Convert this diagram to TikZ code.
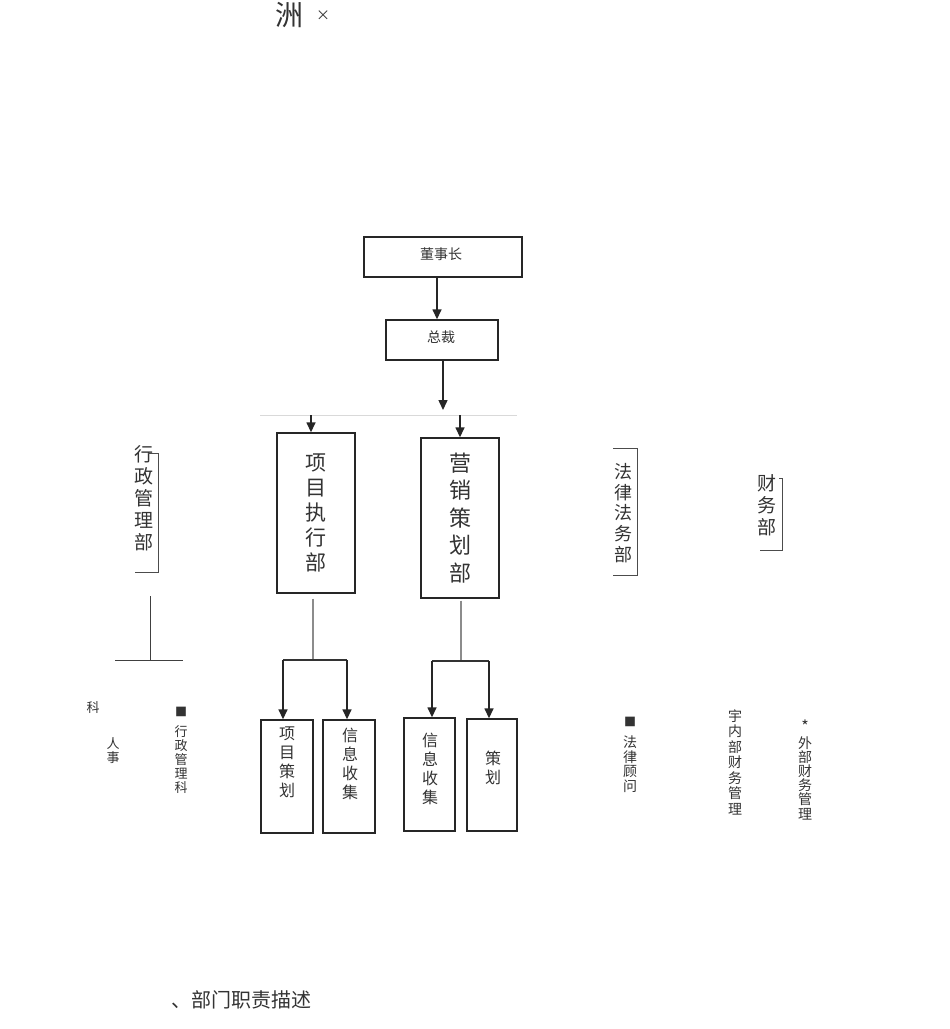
\documentclass[tikz,border=0pt]{standalone}
\usepackage{fontspec}
\newfontfamily\cjk{Noto Sans CJK SC}
\usetikzlibrary{arrows.meta}
\tikzset{
  box/.style={draw=black!85, line width=1.4pt, inner sep=0pt},
  arr/.style={draw=black!85, line width=1.5pt, -{Triangle[length=10pt,width=9pt]}},
  gl/.style={draw=black!45, line width=1.2pt},
  bracket/.style={draw=black!70, line width=0.8pt},
  txt/.style={inner sep=0pt, align=center, text=black!80},
}
\newcommand{\fs}[2]{\cjk\fontsize{#1}{#2}\selectfont}
\begin{document}
\begin{tikzpicture}[x=1pt,y=-1pt]
\useasboundingbox (0,0) rectangle (950,1029);
\fill[white] (0,0) rectangle (950,1029);

% title
\node[txt, font=\fs{28}{30}] (t1) at (289,15) {洲};
\node[txt, font=\fs{14}{15}] (t2) at (323,16) {×};

% top boxes
\node[box, minimum width=158pt, minimum height=40pt] (dsz) at (443,257) {};
\node[txt, font=\fs{14}{16}] (dszt) at (441,254) {董事长};
\node[box, minimum width=112pt, minimum height=40pt] (zc) at (442,340) {};
\node[txt, font=\fs{14}{16}] (zct) at (441,337) {总裁};

\draw[arr] (dsz.south -| 437,0) -- (zc.north -| 437,0);
\coordinate (zcend) at (443,410);
\draw[arr] (zc.south -| zcend) -- (zcend);

% light bar
\coordinate (barL) at (260,415);
\coordinate (barR) at (517,415);
\draw[draw=black!15, line width=1pt] (barL) -- (barR);

% department boxes
\node[box, minimum width=78pt, minimum height=160pt] (xm) at (316,513) {};
\node[txt, font=\fs{21}{25}] (xmt) at (316,513) {项\\目\\执\\行\\部};
\node[box, minimum width=78pt, minimum height=160pt] (yx) at (460,518) {};
\node[txt, font=\fs{22}{27.5}] (yxt) at (460,518) {营\\销\\策\\划\\部};

\coordinate (ta) at (311,415);
\coordinate (tb) at (460,415);
\draw[arr] (ta) -- (ta |- xm.north);
\draw[arr] (tb) -- (tb |- yx.north);

% sub boxes
\node[box, minimum width=52pt, minimum height=113pt] (s1) at (287,776.5) {};
\node[box, minimum width=52pt, minimum height=113pt] (s2) at (349,776.5) {};
\node[box, minimum width=51pt, minimum height=113pt] (s3) at (429.5,774.5) {};
\node[box, minimum width=50pt, minimum height=112pt] (s4) at (492,775) {};
\node[txt, font=\fs{16}{19}] (s1t) at (287,762) {项\\目\\策\\划};
\node[txt, font=\fs{16}{19}] (s2t) at (350,764) {信\\息\\收\\集};
\node[txt, font=\fs{16}{19}] (s3t) at (430,769) {信\\息\\收\\集};
\node[txt, font=\fs{16}{19}] (s4t) at (493,768) {策\\划};

% connectors left group
\coordinate (xa) at (313,660);
\coordinate (j1) at (283,660);
\coordinate (j2) at (347,660);
\draw[gl] (xa |- xm.south) ++(0,5) -- (xa);
\draw[draw=black!80, line width=1.5pt] (j1) -- (j2);
\draw[arr] (j1) -- (j1 |- s1.north);
\draw[arr] (j2) -- (j2 |- s2.north);

% connectors right group
\coordinate (ya) at (461,661);
\coordinate (j3) at (432,661);
\coordinate (j4) at (489,661);
\draw[gl] (ya |- yx.south) ++(0,2) -- (ya);
\draw[draw=black!80, line width=1.5pt] (j3) -- (j4);
\draw[arr] (j3) -- (j3 |- s3.north);
\draw[arr] (j4) -- (j4 |- s4.north);

% left department
\node[txt, font=\fs{19}{22}] (xz) at (144,498) {行\\政\\管\\理\\部};
\draw[bracket] (148,453) -- (158,453) -- (158,572) -- (135,572);
\coordinate (xzv) at (150,596);
\coordinate (xzh1) at (115,660);
\coordinate (xzh2) at (183,660);
\draw[draw=black!75, line width=1pt] (xzv) -- (xzv |- xzh1);
\draw[draw=black!75, line width=1pt] (xzh1) -- (xzh2);
\node[txt, font=\fs{13}{14}] (ke) at (93,708) {科};
\node[txt, font=\fs{13}{14}] (rs) at (113,751) {人\\事};
\node[txt, font=\fs{12}{14}] (sq1) at (181,712) {■};
\node[txt, font=\fs{13}{14}] (xzk) at (181,760) {行\\政\\管\\理\\科};

% legal department
\node[txt, font=\fs{18}{20.75}] (fl) at (623,513) {法\\律\\法\\务\\部};
\draw[bracket] (613,448) -- (637,448) -- (637,575) -- (613,575);
\node[txt, font=\fs{12}{14}] (sq2) at (630,722) {■};
\node[txt, font=\fs{14}{14.5}] (flgw) at (630,764) {法\\律\\顾\\问};

% finance department
\node[txt, font=\fs{19}{22}] (cw) at (767,505) {财\\务\\部};
\draw[bracket] (779,478) -- (782,478) -- (782,550) -- (760,550);
\node[txt, font=\fs{14}{15.5}] (nb) at (735,762) {宇\\内\\部\\财\\务\\管\\理};
\node[txt, font=\fs{16}{16}] (st) at (805,726) {*};
\node[txt, font=\fs{14}{14.2}] (wb) at (805,778) {外\\部\\财\\务\\管\\理};

% bottom text
\node[txt, font=\fs{20}{22}, anchor=west] (bt) at (171,1000) {、部门职责描述};
\end{tikzpicture}
\end{document}
